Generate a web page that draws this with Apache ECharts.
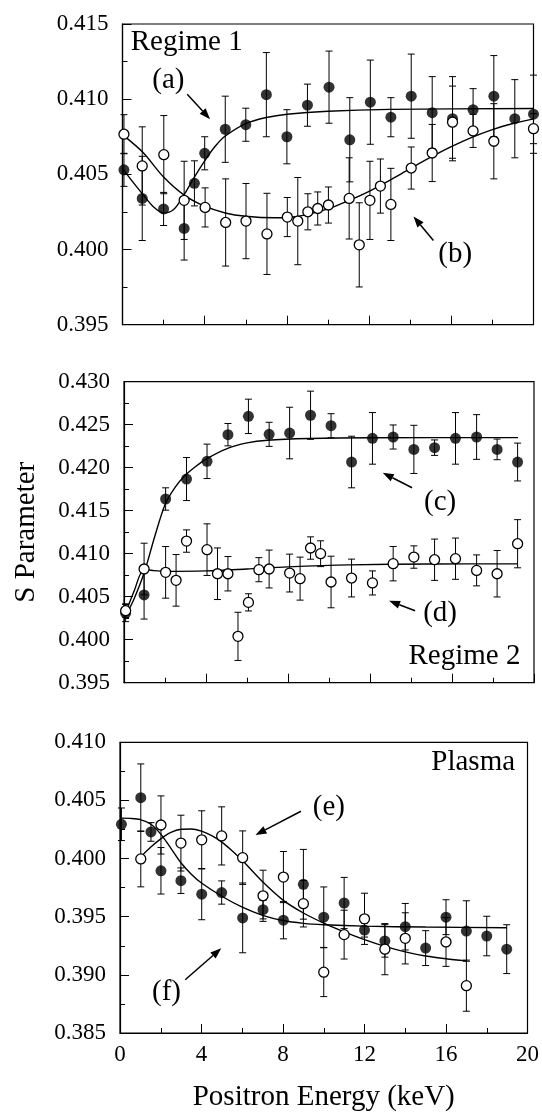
<!DOCTYPE html>
<html>
<head>
<meta charset="utf-8">
<script src="https://cdn.jsdelivr.net/npm/echarts@6/dist/echarts.min.js"></script>
<style>
html,body{margin:0;padding:0;background:#fff;}
#chart{width:542px;height:1113px;}
</style>
</head>
<body>
<div id="chart"></div>
<script>
// ---------------- DATA ----------------
// Regime 1, (a) filled circles
const r1aX = [0.07,0.96,2.0,3.0,3.5,4.0,5.0,6.0,7.0,8.0,9.0,10.05,11.06,12.06,13.06,14.05,15.07,16.06,17.06,18.07,19.09,20.0];
const r1aY = [0.4053,0.4034,0.4027,0.4014,0.4044,0.4064,0.4080,0.4083,0.4103,0.4075,0.4096,0.4108,0.4073,0.4098,0.4088,0.4102,0.4091,0.4087,0.4093,0.4102,0.4087,0.4090];
const r1aE = [0.0011,0.0028,0.0011,0.0021,0.0015,0.0011,0.0022,0.0011,0.0028,0.0018,0.0014,0.0024,0.0028,0.0028,0.0013,0.0028,0.0024,0.0028,0.0014,0.0027,0.0026,0.0026];
// Regime 1, (b) open circles
const r1bX = [0.07,0.96,2.01,3.0,4.02,5.02,6.01,7.03,8.02,8.53,9.02,9.5,10.02,11.03,11.52,12.04,12.55,13.06,14.05,15.07,16.06,17.06,18.07,20.0];
const r1bY = [0.40767,0.40556,0.40631,0.40327,0.4028,0.4018,0.40189,0.40104,0.40216,0.40189,0.40251,0.40273,0.40296,0.4034,0.40031,0.40327,0.40422,0.403,0.40542,0.40642,0.40847,0.40789,0.4072,0.40804];
const r1bE = [0.0013,0.0026,0.0026,0.0026,0.0013,0.0029,0.0025,0.0027,0.0013,0.0029,0.0012,0.0011,0.0012,0.0027,0.0028,0.0026,0.0018,0.0024,0.0014,0.0019,0.0024,0.0011,0.0025,0.0010];
// Regime 1 fit curves
const r1aFitX = [0,0.5,1.0,1.5,2.0,2.5,3.0,3.5,4.0,4.5,5.0,6.0,7.0,8.0,10.0,13.0,20];
const r1aFitY = [0.40538,0.4045,0.40365,0.40285,0.40242,0.40268,0.40365,0.40482,0.40590,0.40685,0.40755,0.40838,0.40878,0.40900,0.40920,0.40932,0.40938];
const r1bFitX = [0,1.0,2.0,3.0,4.0,5.0,6.0,7.4,8.5,10.0,11.0,12.0,13.0,14.0,15.0,16.0,17.0,18.0,19.0,20];
const r1bFitY = [0.40764,0.40645,0.40482,0.40362,0.40288,0.40243,0.40221,0.40211,0.40220,0.40270,0.40325,0.40387,0.40460,0.40538,0.40614,0.40684,0.40746,0.40798,0.40838,0.40869];

// Regime 2, (c) filled circles
const r2cX = [0.08,0.98,2.03,3.05,4.05,5.07,6.07,7.08,8.08,9.1,10.1,11.1,12.12,13.13,14.14,15.15,16.17,17.2,18.2,19.2];
const r2cY = [0.4031,0.4052,0.41636,0.41868,0.42074,0.42384,0.42597,0.42388,0.42403,0.4261,0.42488,0.42066,0.42341,0.42357,0.42213,0.42233,0.42341,0.42357,0.42213,0.42066];
const r2cE = [0.001,0.0028,0.0013,0.0025,0.002,0.0013,0.002,0.0014,0.003,0.0028,0.0014,0.003,0.003,0.0014,0.0028,0.0009,0.003,0.0026,0.0012,0.0022];
// Regime 2, (d) open circles
const r2dX = [0.08,0.98,2.03,2.54,3.05,4.05,4.56,5.07,5.56,6.07,6.58,7.08,8.08,8.59,9.1,9.59,10.1,11.1,12.12,13.13,14.14,15.15,16.17,17.2,18.2,19.2];
const r2dY = [0.40337,0.40822,0.40783,0.4069,0.41147,0.41047,0.40767,0.40767,0.40039,0.40434,0.40814,0.40822,0.40775,0.4071,0.41066,0.41,0.40671,0.40717,0.4066,0.40884,0.40961,0.4093,0.40942,0.40806,0.40767,0.41116];
const r2dE = [0.0008,0.003,0.003,0.003,0.0013,0.003,0.003,0.002,0.0028,0.001,0.0014,0.0022,0.0022,0.0025,0.0013,0.0015,0.003,0.0022,0.0014,0.002,0.0013,0.0024,0.0024,0.0018,0.0027,0.0028];
// Regime 2 fit curves
const r2cFitX = [0.08,0.5,1.0,1.5,2.0,2.5,3.0,3.5,4.0,5.0,6.0,7.0,9.0,12.0,19.22];
const r2cFitY = [0.40275,0.4048,0.40790,0.41200,0.41570,0.41775,0.41915,0.42015,0.42100,0.42220,0.42288,0.42320,0.42340,0.42349,0.42350];
const r2dFitX = [0.08,0.5,0.98,1.4,2.0,4.0,6.0,8.0,11.0,15.0,19.22];
const r2dFitY = [0.40314,0.4057,0.40818,0.40805,0.40795,0.40800,0.40822,0.40847,0.40870,0.40880,0.40882];

// Plasma, (f) filled circles
const plfX = [0.07,1.02,1.52,2.01,2.99,4.01,4.99,6.02,7.02,8.02,9,10,11,12,13,14,15,16,17,18,18.98];
const plfY = [0.40295,0.40524,0.40229,0.39895,0.3981,0.39694,0.39708,0.3949,0.39561,0.3947,0.39779,0.39496,0.39618,0.39385,0.39292,0.39414,0.3923,0.39496,0.39377,0.39334,0.39221];
const plfE = [0.0014,0.0029,0.0008,0.002,0.0011,0.0022,0.001,0.003,0.0008,0.0016,0.003,0.0026,0.0022,0.0006,0.0014,0.002,0.0015,0.0015,0.0026,0.0017,0.0021];
// Plasma, (e) open circles
const pleX = [1.02,2.01,2.99,4.01,4.99,6.02,7.02,8.02,9,10,11,12,13,14,16,17];
const pleY = [0.39997,0.40289,0.40133,0.40161,0.40195,0.40008,0.3968,0.39841,0.39612,0.39023,0.39346,0.39482,0.39221,0.39314,0.39283,0.38907];
const pleE = [0.0024,0.0025,0.0024,0.0025,0.0025,0.0023,0.0022,0.0022,0.002,0.0021,0.0021,0.0022,0.0022,0.0022,0.0021,0.0022];
// Plasma fit curves
const pleFitX = [1.0,1.5,2.0,2.5,3.0,3.5,4.0,4.5,5.0,5.5,6.0,7.0,8.0,9.0,10.0,11.0,12.0,13.0,14.0,15.0,16.0,17.0];
const pleFitY = [0.40012,0.40098,0.40170,0.40225,0.40252,0.40255,0.40236,0.40198,0.40142,0.40068,0.39985,0.39800,0.39643,0.39532,0.39445,0.39370,0.39303,0.39245,0.39198,0.39162,0.39138,0.39120];
const plfFitX = [0.07,0.5,1.0,1.5,2.0,2.5,3.0,3.5,4.0,5.0,6.0,7.0,8.0,9.0,10.0,12.0,15.0,18.98];
const plfFitY = [0.40348,0.40346,0.40335,0.40297,0.40210,0.40088,0.39962,0.39866,0.39790,0.39676,0.39582,0.39512,0.39467,0.39443,0.39431,0.39419,0.39411,0.39405];

// Axis ranges / tick labels
const xTicks = [0,4,8,12,16,20];
const yRanges = [[0.395,0.415],[0.395,0.430],[0.385,0.410]];
const yStep = 0.005;

// Annotation texts (data coordinates) and arrows
const labelTexts = [
  {g:0, x:0.4,  y:0.4138,  t:'Regime 1', align:'left'},
  {g:0, x:2.23, y:0.41127, t:'(a)', align:'center'},
  {g:0, x:16.19,y:0.39967, t:'(b)', align:'center'},
  {g:1, x:15.42,y:0.41593, t:'(c)', align:'center'},
  {g:1, x:15.42,y:0.40302, t:'(d)', align:'center'},
  {g:1, x:19.34,y:0.39802, t:'Regime 2', align:'right'},
  {g:2, x:19.39,y:0.4083,  t:'Plasma', align:'right'},
  {g:2, x:10.25,y:0.40441, t:'(e)', align:'center'},
  {g:2, x:2.28, y:0.38847, t:'(f)', align:'center'}
];
const arrows = [
  {g:0, from:[3.15,0.41033], to:[4.26,0.40867]},
  {g:0, from:[15.13,0.4006], to:[14.16,0.4022]},
  {g:1, from:[14.05,0.41767], to:[12.62,0.41942]},
  {g:1, from:[14.2,0.40337], to:[12.93,0.40453]},
  {g:2, from:[8.88,0.40407], to:[6.65,0.40203]},
  {g:2, from:[3.2,0.38958], to:[4.97,0.39229]}
];

// ---------------- CHART ----------------
const FONT = 'Liberation Serif';
const zip3 = (a,b,c) => a.map((v,i)=>[v,b[i],c[i]]);
const zip2 = (a,b) => a.map((v,i)=>[v,b[i]]);

const grids = [
  {left:122.5, top:24,    width:411, height:300.7},
  {left:124,   top:381.7, width:410, height:301},
  {left:120,   top:742.3, width:411, height:295}
];

function errRender(params, api){
  const x = api.value(0), y = api.value(1), e = api.value(2);
  const hi = api.coord([x, y+e]);
  const lo = api.coord([x, y-e]);
  const w = 3.5;
  const st = {stroke:'#000', lineWidth:1};
  return {type:'group', children:[
    {type:'line', shape:{x1:hi[0],y1:hi[1],x2:lo[0],y2:lo[1]}, style:st},
    {type:'line', shape:{x1:hi[0]-w,y1:hi[1],x2:hi[0]+w,y2:hi[1]}, style:st},
    {type:'line', shape:{x1:lo[0]-w,y1:lo[1],x2:lo[0]+w,y2:lo[1]}, style:st}
  ]};
}

const panels = [
  {filled: zip3(r1aX,r1aY,r1aE), open: zip3(r1bX,r1bY,r1bE), fits:[zip2(r1aFitX,r1aFitY), zip2(r1bFitX,r1bFitY)]},
  {filled: zip3(r2cX,r2cY,r2cE), open: zip3(r2dX,r2dY,r2dE), fits:[zip2(r2cFitX,r2cFitY), zip2(r2dFitX,r2dFitY)]},
  {filled: zip3(plfX,plfY,plfE), open: zip3(pleX,pleY,pleE), fits:[zip2(plfFitX,plfFitY), zip2(pleFitX,pleFitY)]}
];

const xAxes = [], yAxes = [], series = [];
panels.forEach((p, g) => {
  xAxes.push({
    type:'value', gridIndex:g, min:xTicks[0], max:xTicks[xTicks.length-1], interval:4,
    axisLine:{show:true, lineStyle:{color:'#000', width:1.2}},
    axisTick:{show:true, inside:true, length:9, lineStyle:{color:'#000', width:1}},
    minorTick:{show:true, splitNumber:2, length:5, lineStyle:{color:'#000', width:1}},
    splitLine:{show:false},
    axisLabel:{show: g===2, color:'#000', fontFamily:FONT, fontSize:23, margin:10},
    name: g===2 ? 'Positron Energy (keV)' : '',
    nameLocation:'middle', nameGap:50,
    nameTextStyle:{color:'#000', fontFamily:FONT, fontSize:29}
  });
  yAxes.push({
    type:'value', gridIndex:g, min:yRanges[g][0], max:yRanges[g][1], interval:yStep,
    axisLine:{show:true, lineStyle:{color:'#000', width:1.2}},
    axisTick:{show:true, inside:true, length:9, lineStyle:{color:'#000', width:1}},
    minorTick:{show:true, splitNumber:2, length:5, lineStyle:{color:'#000', width:1}},
    splitLine:{show:false},
    axisLabel:{color:'#000', fontFamily:FONT, fontSize:23, margin:14, formatter:v=>v.toFixed(3)},
    name: g===1 ? 'S Parameter' : '',
    nameLocation:'middle', nameGap:83, nameRotate:90,
    nameTextStyle:{color:'#000', fontFamily:FONT, fontSize:29}
  });
  const ax = {xAxisIndex:g, yAxisIndex:g};
  series.push(Object.assign({type:'custom', renderItem:errRender, data:p.filled, encode:{x:0,y:1}, z:1, silent:true, clip:false}, ax));
  series.push(Object.assign({type:'custom', renderItem:errRender, data:p.open, encode:{x:0,y:1}, z:1, silent:true, clip:false}, ax));
  p.fits.forEach(f => {
    series.push(Object.assign({type:'line', data:f, smooth:0.3, showSymbol:false, symbol:'none',
      lineStyle:{color:'#000', width:1.4}, z:2, silent:true}, ax));
  });
  series.push(Object.assign({type:'scatter', data:p.filled.map(d=>[d[0],d[1]]), symbol:'circle', symbolSize:11,
    itemStyle:{color:'#000'}, z:3, clip:false, silent:true}, ax));
  series.push(Object.assign({type:'scatter', data:p.open.map(d=>[d[0],d[1]]), symbol:'circle', symbolSize:10,
    itemStyle:{color:'#fff', borderColor:'#000', borderWidth:1.3, opacity:1}, z:4, clip:false, silent:true}, ax));
});

const chart = echarts.init(document.getElementById('chart'), null, {renderer:'canvas'});
chart.setOption({
  animation:false,
  backgroundColor:'#fff',
  grid: grids.map(g => Object.assign({show:true, borderColor:'#000', borderWidth:1.2, backgroundColor:'transparent', containLabel:false}, g)),
  xAxis:xAxes, yAxis:yAxes, series:series
});

// annotations placed through the chart's own coordinate conversion
const gfx = [];
labelTexts.forEach(l => {
  const p = chart.convertToPixel({gridIndex:l.g}, [l.x, l.y]);
  gfx.push({type:'text', x:p[0], y:p[1], z:10, silent:true,
    style:{text:l.t, fill:'#000', font:'29px "Liberation Serif"', textAlign:l.align, textVerticalAlign:'middle'}});
});
arrows.forEach(a => {
  const p1 = chart.convertToPixel({gridIndex:a.g}, a.from);
  const p2 = chart.convertToPixel({gridIndex:a.g}, a.to);
  const dx = p2[0]-p1[0], dy = p2[1]-p1[1];
  const L = Math.sqrt(dx*dx+dy*dy), ux = dx/L, uy = dy/L;
  const hl = 11, hw = 4;
  const bx = p2[0]-ux*hl, by = p2[1]-uy*hl;
  gfx.push({type:'line', z:10, silent:true, shape:{x1:p1[0],y1:p1[1],x2:bx,y2:by}, style:{stroke:'#000', lineWidth:1.5}});
  gfx.push({type:'polygon', z:10, silent:true, shape:{points:[[p2[0],p2[1]],[bx-uy*hw,by+ux*hw],[bx+uy*hw,by-ux*hw]]}, style:{fill:'#000'}});
});
chart.setOption({graphic:gfx});
</script>
</body>
</html>
